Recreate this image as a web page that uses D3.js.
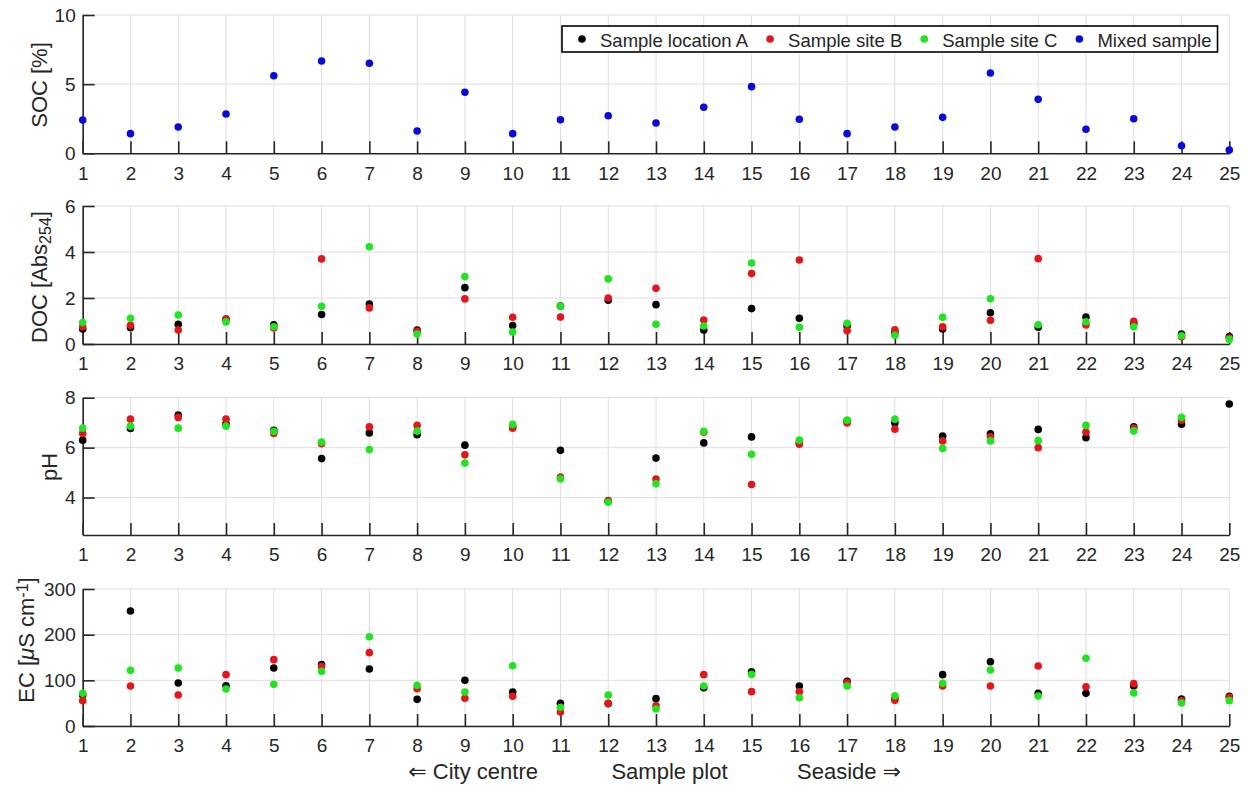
<!DOCTYPE html>
<html><head><meta charset="utf-8">
<script src="https://cdn.jsdelivr.net/npm/d3@7"></script>
<style>
body{margin:0;background:#fff}
svg{display:block}
text{font-family:"Liberation Sans",Arial,Helvetica,"DejaVu Sans",sans-serif;fill:#262626}
</style>
</head><body>
<svg id="chart" width="1248" height="785"></svg>
<script>
// ---------- data ----------
const plots = [1,2,3,4,5,6,7,8,9,10,11,12,13,14,15,16,17,18,19,20,21,22,23,24,25];

const socMixed = [2.41,1.42,1.90,2.84,5.61,6.67,6.51,1.61,4.41,1.42,2.43,2.72,2.19,3.33,4.82,2.46,1.42,1.90,2.60,5.81,3.90,1.74,2.50,0.55,0.24];

const docA = [0.65,0.71,0.86,1.09,0.84,1.28,1.74,0.61,2.45,0.80,1.65,1.90,1.71,0.61,1.54,1.12,0.78,0.50,0.65,1.36,0.73,1.17,0.90,0.43,0.32];
const docB = [0.75,0.81,0.61,1.07,0.70,3.70,1.57,0.55,1.96,1.16,1.17,2.00,2.42,1.04,3.06,3.65,0.58,0.62,0.75,1.03,3.71,0.83,0.99,0.32,0.26];
const docC = [0.93,1.12,1.26,0.96,0.75,1.64,4.23,0.43,2.93,0.52,1.64,2.83,0.86,0.78,3.52,0.73,0.90,0.38,1.16,1.97,0.84,0.97,0.75,0.36,0.20];

const phA = [6.30,6.77,7.30,6.95,6.69,5.56,6.59,6.52,6.10,6.85,5.89,3.85,5.58,6.19,6.43,6.19,7.07,6.99,6.46,6.55,6.73,6.40,6.83,6.94,7.75];
const phB = [6.57,7.14,7.21,7.14,6.57,6.16,6.83,6.89,5.71,6.78,4.82,3.88,4.74,6.62,4.52,6.14,6.99,6.74,6.27,6.43,6.00,6.62,6.78,7.10,null];
const phC = [6.78,6.86,6.78,6.86,6.65,6.22,5.92,6.66,5.38,6.93,4.75,3.81,4.55,6.65,5.73,6.30,7.10,7.14,5.97,6.27,6.28,6.89,6.67,7.21,null];

const ecA = [67.9,251.8,94.2,88.3,127.0,134.3,124.8,58.4,100.0,74.5,49.6,49.0,59.9,83.9,118.9,87.6,97.8,60.0,112.4,140.8,71.5,71.5,87.6,59.1,65.0];
const ecB = [55.5,87.6,67.9,112.4,145.3,130.0,160.6,81.8,60.6,65.0,30.7,49.6,44.5,112.4,75.2,75.2,95.0,56.2,87.6,87.6,131.4,86.1,92.7,55.0,62.8];
const ecC = [71.5,121.9,127.0,81.0,91.2,119.8,195.6,89.0,74.5,132.0,40.9,67.9,37.2,87.6,113.0,62.0,87.6,66.4,93.4,122.6,65.7,148.2,72.3,50.4,55.5];

const socTicks = [0,5,10];
const docTicks = [0,2,4,6];
const phTicks = [4,6,8];
const ecTicks = [0,100,200,300];

const seriesNames = ["Sample location A","Sample site B","Sample site C","Mixed sample"];
const seriesColors = ["#000000","#e3161b","#1fe41f","#0a0ad8"];

// ---------- layout ----------
const svg = d3.select("#chart");
const left = 82.7, right = 1229.3;
const x = d3.scaleLinear().domain([1,25]).range([left,right]);

const panels = [
  {top:15,   bottom:153.3, domain:[0,10],  ticks:socTicks, series:[[socMixed,3]]},
  {top:206,  bottom:344,   domain:[0,6],   ticks:docTicks, series:[[docA,0],[docB,1],[docC,2]]},
  {top:397.7,bottom:535,   domain:[2.5,8], ticks:phTicks,  series:[[phA,0],[phB,1],[phC,2]]},
  {top:589,  bottom:726,   domain:[0,300], ticks:ecTicks,  series:[[ecA,0],[ecB,1],[ecC,2]]}
];

const axisColor = "#262626", gridColor = "#dedee4";

panels.forEach(p => {
  const y = d3.scaleLinear().domain(p.domain).range([p.bottom,p.top]);
  const g = svg.append("g");
  // grid
  g.append("g").selectAll("line").data(plots).join("line")
    .attr("x1",d=>x(d)).attr("x2",d=>x(d)).attr("y1",p.top).attr("y2",p.bottom)
    .attr("stroke",gridColor).attr("stroke-width",1);
  g.append("g").selectAll("line").data(p.ticks).join("line")
    .attr("x1",left).attr("x2",right).attr("y1",d=>y(d)).attr("y2",d=>y(d))
    .attr("stroke",gridColor).attr("stroke-width",1);
  // axes
  const xa = g.append("g").attr("transform",`translate(0,${p.bottom})`)
    .call(d3.axisBottom(x).tickValues(plots).tickFormat(d3.format("d")).tickSizeInner(-12).tickSizeOuter(0).tickPadding(13));
  const ya = g.append("g").attr("transform",`translate(${left},0)`)
    .call(d3.axisLeft(y).tickValues(p.ticks).tickFormat(d3.format("d")).tickSizeInner(-12).tickSizeOuter(0).tickPadding(7));
  [xa,ya].forEach(a=>{
    a.select(".domain").attr("stroke",axisColor).attr("stroke-width",1.6);
    a.selectAll(".tick line").attr("stroke",axisColor).attr("stroke-width",1.6);
    a.selectAll(".tick text").attr("fill",axisColor).style("font-size","19px")
      .style("font-family",'"Liberation Sans",Arial,Helvetica,sans-serif');
  });
  // points
  p.series.forEach(([vals,ci]) => {
    g.append("g").selectAll("circle")
      .data(plots.map((d,i)=>({x:d,v:vals[i]})).filter(d=>d.v!=null))
      .join("circle")
      .attr("cx",d=>x(d.x)).attr("cy",d=>y(d.v)).attr("r",3.8)
      .attr("fill",seriesColors[ci]);
  });
});

// ---------- y labels ----------
function ylab(cx, cy){
  return svg.append("text").attr("transform",`translate(${cx},${cy}) rotate(-90)`)
    .attr("text-anchor","middle").style("font-size","22px");
}
ylab(46.7,85).text("SOC [%]");
{
  const t = ylab(46.7,277);
  t.append("tspan").text("DOC [Abs");
  t.append("tspan").attr("baseline-shift","-25%").style("font-size","16px").text("254");
  t.append("tspan").text("]");
}
ylab(57,467).text("pH");
{
  const t = ylab(33.5,640);
  t.append("tspan").text("EC [");
  t.append("tspan").style("font-style","italic").text("μ");
  t.append("tspan").text("S cm");
  t.append("tspan").attr("baseline-shift","40%").style("font-size","16px").text("-1");
  t.append("tspan").text("]");
}

// ---------- x label ----------
svg.append("text").attr("x",538).attr("y",779).attr("text-anchor","end").style("font-size","22px").text("⇐ City centre");
svg.append("text").attr("x",669.5).attr("y",779).attr("text-anchor","middle").style("font-size","22px").text("Sample plot");
svg.append("text").attr("x",797).attr("y",779).attr("text-anchor","start").style("font-size","22px").text("Seaside ⇒");

// ---------- legend ----------
const lg = svg.append("g");
const box = lg.append("rect").attr("x",562).attr("y",26).attr("height",26)
  .attr("fill","#fff").attr("stroke","#000").attr("stroke-width",1.6);
let cx = 582;
seriesNames.forEach((n,i)=>{
  lg.append("circle").attr("cx",cx).attr("cy",39).attr("r",3.8).attr("fill",seriesColors[i]);
  const t = lg.append("text").attr("x",cx+18).attr("y",46.5).style("font-size","18.5px").attr("fill","#000").text(n);
  const w = t.node().getComputedTextLength();
  cx = cx + 18 + w + 22;
});
box.attr("width", cx - 22 + 6 - 562);
</script>
</body></html>
